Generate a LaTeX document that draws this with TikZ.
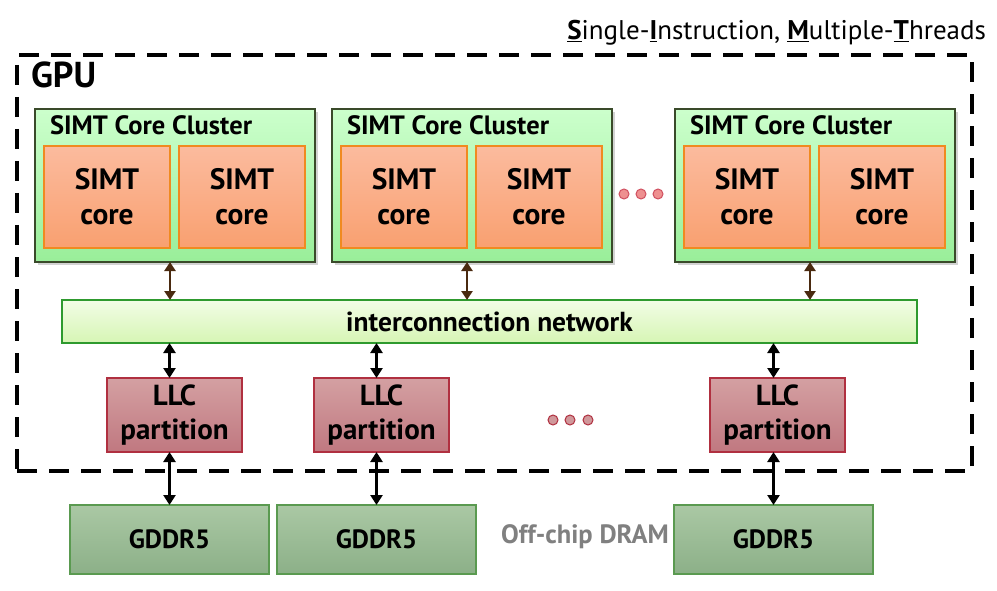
\documentclass[tikz,border=0pt]{standalone}
\usepackage{fontspec}
\setmainfont{PT Sans}
\usetikzlibrary{shadows,arrows.meta}
\definecolor{clTop}{HTML}{CCFFCC}
\definecolor{clBot}{HTML}{99EE99}
\definecolor{clBorder}{HTML}{3A4A2A}
\definecolor{coTop}{HTML}{FBBB9E}
\definecolor{coBot}{HTML}{F9A070}
\definecolor{coBorder}{HTML}{F08A20}
\definecolor{nTop}{HTML}{F2FDE6}
\definecolor{nBot}{HTML}{D6F5B4}
\definecolor{nBorder}{HTML}{2E9A2E}
\definecolor{lTop}{HTML}{D4A0A2}
\definecolor{lBot}{HTML}{C07880}
\definecolor{lBorder}{HTML}{B03040}
\definecolor{gTop}{HTML}{AAC8A4}
\definecolor{gBot}{HTML}{8CB088}
\definecolor{gBorder}{HTML}{5A9A50}
\definecolor{brownA}{HTML}{4A2A10}
\definecolor{dotFill}{HTML}{EE9090}
\definecolor{dotBorder}{HTML}{D05060}
\definecolor{offGray}{HTML}{808080}
\begin{document}
\begin{tikzpicture}[x=1pt,y=-1pt,
  every node/.style={inner sep=0pt, outer sep=0pt},
  cluster/.style={draw=clBorder, line width=1.2pt, top color=clTop, bottom color=clBot,
     minimum width=280pt, minimum height=153pt, drop shadow={shadow xshift=3pt, shadow yshift=-3pt, opacity=0.35}},
  core/.style={draw=coBorder, line width=1.2pt, top color=coTop, bottom color=coBot,
     minimum width=126pt, minimum height=102pt, align=center,
     font=\fontsize{29.5}{35}\selectfont\bfseries},
  clabel/.style={font=\fontsize{26.5}{30}\selectfont\bfseries, anchor=west},
  net/.style={draw=nBorder, line width=1.2pt, top color=nTop, bottom color=nBot,
     minimum width=855pt, minimum height=43pt, font=\fontsize{27.5}{30}\selectfont\bfseries},
  llc/.style={draw=lBorder, line width=1.2pt, top color=lTop, bottom color=lBot,
     minimum width=135pt, minimum height=74pt, align=center,
     font=\fontsize{29}{34}\selectfont\bfseries},
  gddr/.style={draw=gBorder, line width=1.2pt, top color=gTop, bottom color=gBot,
     minimum width=199pt, minimum height=69pt, font=\fontsize{26.5}{30}\selectfont\bfseries},
  rdot/.style={circle, draw=dotBorder, line width=1pt, fill=dotFill, minimum size=10pt},
  barr/.style={draw=brownA, line width=2.6pt, {Triangle[width=11pt,length=9pt]}-{Triangle[width=11pt,length=9pt]}},
  karr/.style={draw=black, line width=3pt, {Triangle[width=12pt,length=10pt]}-{Triangle[width=12pt,length=10pt]}},
  gpubox/.style={draw=black, line width=4pt, dash pattern=on 20pt off 12pt,
     minimum width=955pt, minimum height=416pt}
]
\useasboundingbox (0,0) rectangle (997,591);

% title
\node[anchor=east, font=\fontsize{27}{32}\selectfont] (title) at (986,33)
  {\underline{\textbf{S}}ingle-\underline{\textbf{I}}nstruction, \underline{\textbf{M}}ultiple-\underline{\textbf{T}}hreads};

% GPU box
\node[gpubox] (gpu) at (494.5,263) {};
\node[anchor=west, font=\fontsize{36}{40}\selectfont\bfseries] (gpul) at (31,75) {GPU};

% clusters
\node[cluster] (c1) at (175,185.5) {};
\node[cluster] (c2) at (472,185.5) {};
\node[cluster] (c3) at (815,185.5) {};
\node[clabel] (c1l) at (50,125) {SIMT Core Cluster};
\node[clabel] (c2l) at (347,125) {SIMT Core Cluster};
\node[clabel] (c3l) at (690,125) {SIMT Core Cluster};

\node[core] (k1a) at (107,197) {SIMT\\core};
\node[core] (k1b) at (242,197) {SIMT\\core};
\node[core] (k2a) at (404,197) {SIMT\\core};
\node[core] (k2b) at (539,197) {SIMT\\core};
\node[core] (k3a) at (747,197) {SIMT\\core};
\node[core] (k3b) at (882,197) {SIMT\\core};

\node[rdot] (d1) at (624,194) {};
\node[rdot] (d2) at (641,194) {};
\node[rdot] (d3) at (658,194) {};

% interconnect
\node[net] (net) at (489.5,321.5) {interconnection network};

% LLC
\node[llc] (l1) at (174.5,415) {LLC\\partition};
\node[llc] (l2) at (381.5,415) {LLC\\partition};
\node[llc] (l3) at (777.5,415) {LLC\\partition};

\node[rdot, draw=lBorder, fill=lTop!80!lBot] (e1) at (553,420) {};
\node[rdot, draw=lBorder, fill=lTop!80!lBot] (e2) at (570,420) {};
\node[rdot, draw=lBorder, fill=lTop!80!lBot] (e3) at (588,420) {};

% GDDR5
\node[gddr] (g1) at (169.5,539.5) {GDDR5};
\node[gddr] (g2) at (376.5,539.5) {GDDR5};
\node[gddr] (g3) at (773.5,539.5) {GDDR5};
\node[font=\fontsize{26.5}{30}\selectfont\bfseries, text=offGray] (off) at (585,537) {Off-chip DRAM};

% arrows cluster -> net
\draw[barr] (k1a.east |- c1.south) -- (k1a.east |- net.north);
\draw[barr] (k2a.east |- c2.south) -- (k2a.east |- net.north);
\draw[barr] (k3a.east |- c3.south) -- (k3a.east |- net.north);

% arrows net -> LLC
\draw[karr] (g1.north |- net.south) -- (g1.north |- l1.north);
\draw[karr] (g2.north |- net.south) -- (g2.north |- l2.north);
\draw[karr] (g3.north |- net.south) -- (g3.north |- l3.north);

% arrows LLC -> GDDR
\draw[karr] (g1.north |- l1.south) -- (g1.north);
\draw[karr] (g2.north |- l2.south) -- (g2.north);
\draw[karr] (g3.north |- l3.south) -- (g3.north);
\end{tikzpicture}
\end{document}
